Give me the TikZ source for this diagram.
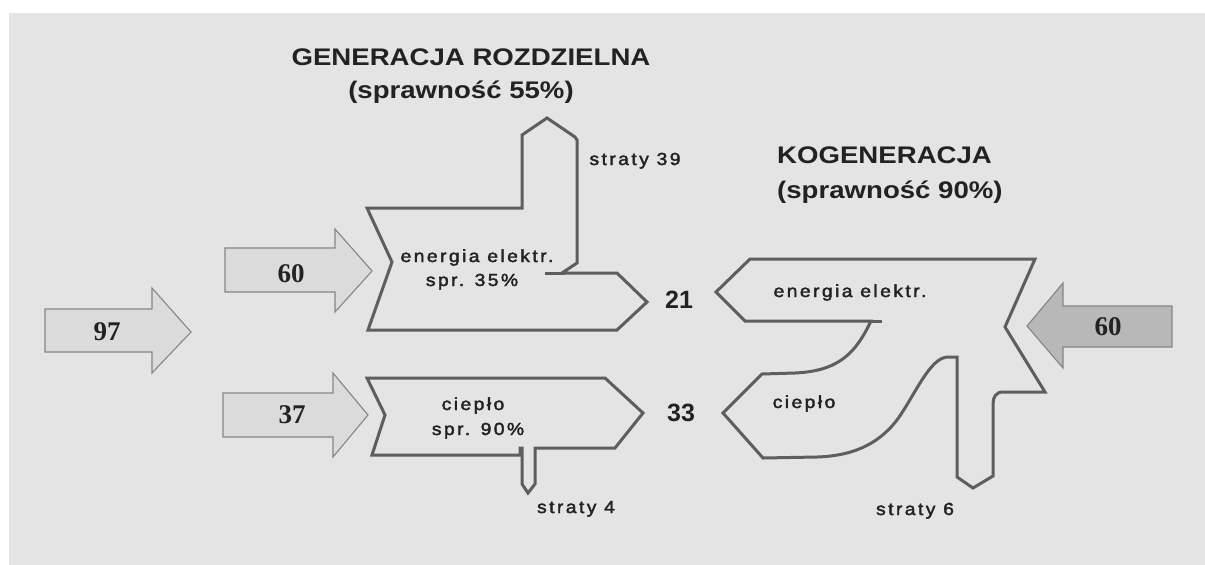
\documentclass[tikz,border=0pt]{standalone}
\usepackage{fontspec}
\setmainfont{Liberation Sans}
\newfontfamily\labfont[FakeStretch=1.1,LetterSpace=14,FakeBold=2.2]{Liberation Sans}
\newfontfamily\titfont[FakeStretch=1.15]{Liberation Sans}
\newfontfamily\numfont{Liberation Serif}
\definecolor{bgc}{HTML}{E4E4E5}
\definecolor{edgec}{HTML}{5E5E5E}
\definecolor{arrfill}{HTML}{DBDBDB}
\definecolor{arrdark}{HTML}{B8B8B8}
\definecolor{arredge}{HTML}{858585}
\definecolor{txtc}{HTML}{222222}
\tikzset{
  flowshape/.style={draw=edgec, line width=3pt, line join=miter, fill=bgc},
  inarrow/.style={draw=arredge, line width=1.1pt, fill=arrfill, line join=miter},
  inarrowdark/.style={draw=arredge, line width=1.1pt, fill=arrdark, line join=miter},
  lab/.style={inner sep=0pt, anchor=base, text=txtc, font=\labfont\fontsize{17.5}{20}\selectfont},
  titl/.style={inner sep=0pt, anchor=base, text=txtc, font=\titfont\bfseries\fontsize{24}{28}\selectfont},
  numl/.style={inner sep=0pt, anchor=base, text=txtc, font=\numfont\bfseries\fontsize{27}{30}\selectfont},
  bignum/.style={inner sep=0pt, anchor=base, text=txtc, font=\bfseries\fontsize{25}{28}\selectfont}
}
\begin{document}
\begin{tikzpicture}[x=1pt,y=-1pt]
\useasboundingbox (0,0) rectangle (1205,565);
\fill[white] (0,0) rectangle (1205,565);
\fill[bgc] (9,13) rectangle (1205,565);

% input arrows
\draw[inarrow] (45,309) -- (152,309) -- (152,288) -- (191,332) -- (152,373) -- (152,352) -- (45,352) -- cycle;
\draw[inarrow] (225,248) -- (335,248) -- (335,229) -- (372,271) -- (335,312) -- (335,292) -- (225,292) -- cycle;
\draw[inarrow] (223,393) -- (333,393) -- (333,373) -- (368,415) -- (333,457) -- (333,437) -- (223,437) -- cycle;
\draw[inarrowdark] (1172,306) -- (1063,306) -- (1063,283) -- (1027,326) -- (1063,368) -- (1063,347) -- (1172,347) -- cycle;

% separate generation: electricity
\draw[flowshape] (367,208) -- (522,208) -- (522,135) -- (547,118) -- (575,137) -- (577,140) -- (577,263) -- (562,273) -- (617,273) -- (647,302) -- (617,330) -- (368,330) -- (392,262) -- cycle;
\draw[draw=edgec, line width=3pt] (545,273) -- (565,273);

% separate generation: heat
\draw[flowshape] (367,378) -- (605,378) -- (643,413) -- (615,448) -- (535,448) -- (535,484) -- (528,493) -- (522,484) -- (522,448) -- (520,448) -- (520,455) -- (372,455) -- (385,415) -- cycle;

% cogeneration
\draw[flowshape] (750,259) -- (1035,259) -- (1005,327) -- (1045,392) -- (1003,392)
  .. controls (996,392) and (993,397) .. (993,404) -- (993,476) -- (973,488) -- (957,477) -- (957,357) -- (948,357)
  .. controls (930,357) and (915,395) .. (897,420) .. controls (877,446) and (850,456) .. (817,457)
  -- (763,458) -- (723,413) -- (762,374) -- (795,373)
  .. controls (840,371) and (856,352) .. (871,321) -- (745,321) -- (716,292) -- cycle;
\draw[draw=edgec, line width=3pt] (868,321) -- (882,321);

% numbers in arrows
\node[numl] (n97) at (107,340) {97};
\node[numl] (n60a) at (291,282) {60};
\node[numl] (n37) at (292,423) {37};
\node[numl] (n60b) at (1108,335) {60};

% outputs
\node[bignum] (n21) at (679,308) {21};
\node[bignum] (n33) at (681,421) {33};

% labels
\node[lab] (ee1) at (477,262) {energia elektr.};
\node[lab] (sp35) at (472,286) {spr. 35\%};
\node[lab] (cp1) at (473,410) {ciepło};
\node[lab] (sp90) at (478,435) {spr. 90\%};
\node[lab] (st39) at (635,165) {straty 39};
\node[lab] (st4) at (576,513) {straty 4};
\node[lab] (ee2) at (850,297) {energia elektr.};
\node[lab] (cp2) at (804,408) {ciepło};
\node[lab] (st6) at (915,515) {straty 6};

% titles
\node[titl] (t1) at (471,65) {GENERACJA ROZDZIELNA};
\node[titl] (t2) at (461,98) {(sprawność 55\%)};
\node[titl, anchor=base west] (t3) at (777,163) {KOGENERACJA};
\node[titl, anchor=base west] (t4) at (777,198) {(sprawność 90\%)};
\end{tikzpicture}
\end{document}
